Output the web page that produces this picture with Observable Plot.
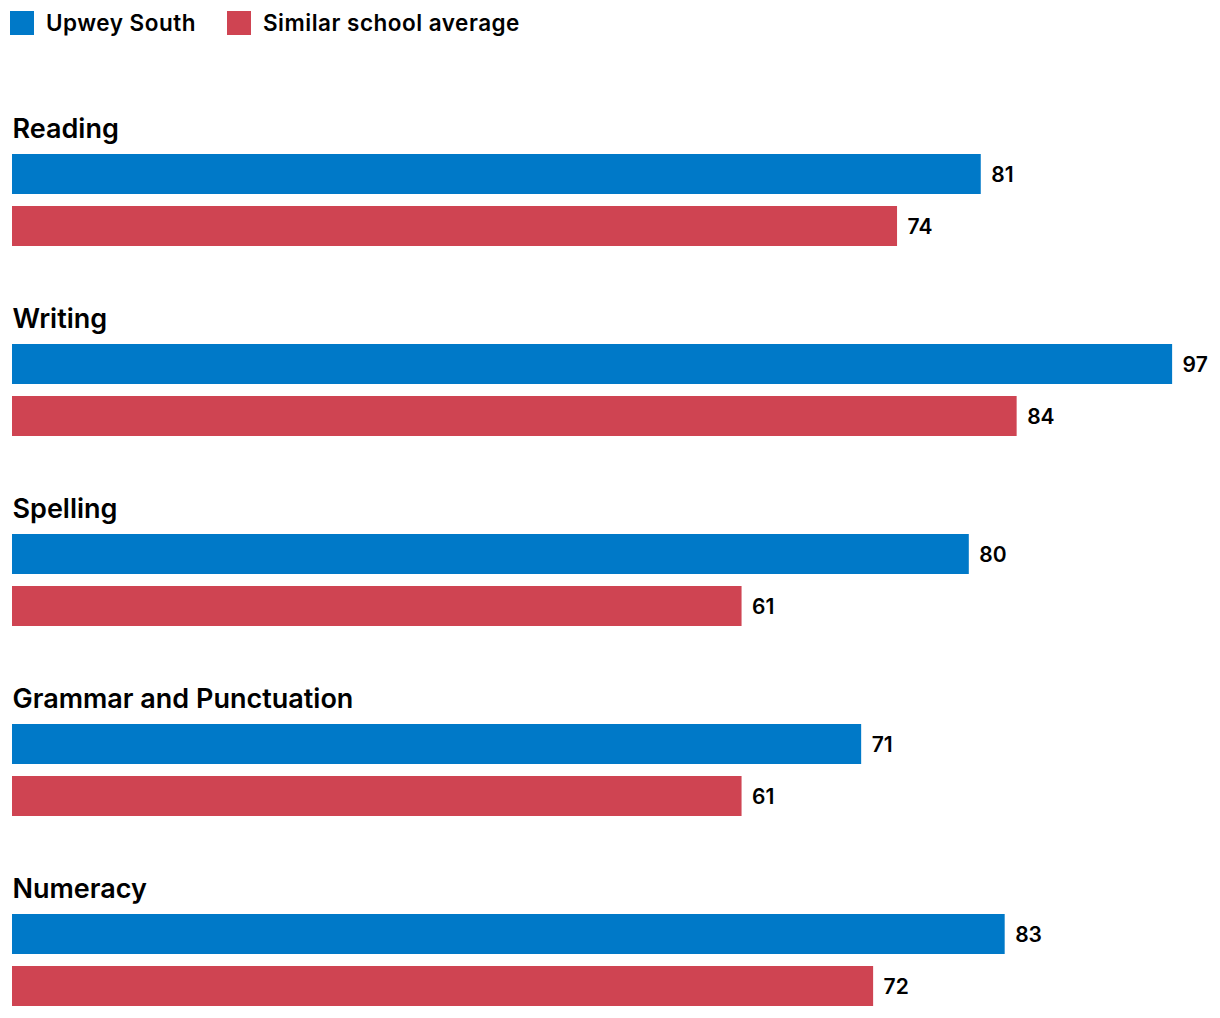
<!DOCTYPE html>
<html><head><meta charset="utf-8">
<script src="https://cdn.jsdelivr.net/npm/d3@7"></script>
<script src="https://cdn.jsdelivr.net/npm/@observablehq/plot@0.6"></script>
<style>
body{margin:0;background:#fff;font-family:Inter, sans-serif;}
#legend{height:50px;display:flex;align-items:flex-start;padding-left:10px;box-sizing:border-box;padding-top:11px;}
.item{display:flex;align-items:center;font-size:22.5px;font-weight:600;color:#000;margin-right:31px;line-height:24px;letter-spacing:0.5px;}
.sw{width:24px;height:24px;margin-right:12px;flex:none;}
g[aria-label="subject-title"] text{letter-spacing:0.4px;word-spacing:4px;}
</style></head><body>
<div id="legend"></div><div id="chart"></div>
<script>
const subjects = ["Reading","Writing","Spelling","Grammar and Punctuation","Numeracy"];
const series = ["Upwey South","Similar school average"];
const upweySouth = [81,97,80,71,83];
const similarAverage = [74,84,61,61,72];
const colors = ["#0079c8","#cf4452"];

const data = [];
subjects.forEach((s, i) => {
  data.push({subject: s, series: series[0], value: upweySouth[i]});
  data.push({subject: s, series: series[1], value: similarAverage[i]});
});

const legend = document.getElementById("legend");
series.forEach((s, i) => {
  const item = document.createElement("div");
  item.className = "item";
  const sw = document.createElement("span");
  sw.className = "sw";
  sw.style.background = colors[i];
  item.appendChild(sw);
  item.appendChild(document.createTextNode(s));
  legend.appendChild(item);
});

const chart = Plot.plot({
  width: 1220,
  height: 964,
  marginTop: 14,
  marginBottom: 0,
  marginLeft: 12,
  marginRight: 12,
  style: {fontFamily: "Inter, sans-serif", background: "#fff"},
  x: {domain: [0, 100], axis: null},
  y: {domain: series, axis: null, paddingInner: 12/52, paddingOuter: 0, insetTop: 90, insetBottom: 8},
  fy: {domain: subjects, axis: null, padding: 0},
  color: {domain: series, range: colors},
  marks: [
    Plot.barX(data, {x: "value", y: "series", fy: "subject", fill: "series"}),
    Plot.text(data, {x: "value", y: "series", fy: "subject", text: d => String(d.value), textAnchor: "start", dx: 10, dy: 1, fontSize: 21, fontWeight: 600, fill: "#000"}),
    Plot.text(subjects, {fy: d => d, text: d => d, frameAnchor: "top-left", lineAnchor: "bottom", dy: 73, fontSize: 27, fontWeight: 600, fill: "#000", ariaLabel: "subject-title"})
  ]
});
document.getElementById("chart").appendChild(chart);
</script>
</body></html>
